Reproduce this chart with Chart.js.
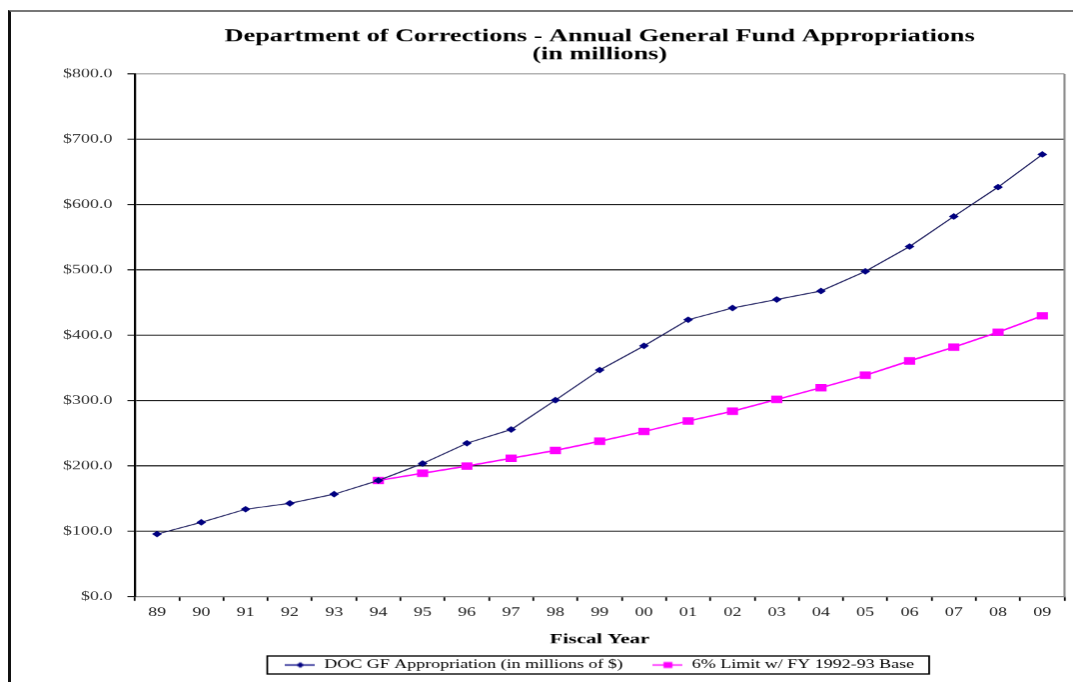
<!DOCTYPE html>
<html>
<head>
<meta charset="utf-8">
<script src="https://cdn.jsdelivr.net/npm/chart.js@4"></script>
<style>
  body { margin: 0; background: #fff; overflow: hidden; }
  #frame { position: absolute; left: 8px; top: 10px; width: 1100px; height: 700px; border-left: 3px solid #111; border-top: 2px solid #777; }
  #wrap { position: absolute; left: 0; top: 0; width: 716px; height: 682px; transform: scaleX(1.4986); transform-origin: 0 0; }
</style>
</head>
<body>
<div id="frame"></div>
<div id="wrap"><canvas id="docChart"></canvas></div>
<script>
// Fiscal years and appropriations (millions of $)
const years = ['89', '90', '91', '92', '93', '94', '95', '96', '97', '98', '99', '00', '01', '02', '03', '04', '05', '06', '07', '08', '09'];
const docAppropriation = [96, 114, 134, 143, 157, 178, 204, 235, 256, 301, 347, 384, 424, 442, 455, 468, 498, 536, 582, 627, 677];
const limitSixPct = [null, null, null, null, null, 178, 189, 200, 212, 224, 238, 253, 269, 284, 302, 320, 339, 361, 382, 405, 430];
const yTicks = [0, 100, 200, 300, 400, 500, 600, 700, 800];

const serif = "'Liberation Serif', 'Times New Roman', serif";
const navy = '#000080';
const pink = '#ff00ff';

// little legend icons: line with the marker in the middle
function legendIcon(color, shape) {
    const c = document.createElement('canvas');
    c.width = 20; c.height = 9;
    const g = c.getContext('2d');
    g.strokeStyle = color; g.fillStyle = color; g.lineWidth = 1.3;
    g.beginPath(); g.moveTo(0, 4.5); g.lineTo(20, 4.5); g.stroke();
    g.beginPath();
    if (shape === 'diamond') {
        g.moveTo(10, 1.5); g.lineTo(12.5, 4.5); g.lineTo(10, 7.5); g.lineTo(7.5, 4.5);
    } else {
        g.rect(7, 1.5, 6, 6);
    }
    g.fill();
    return c;
}
const icons = [legendIcon(navy, 'diamond'), legendIcon(pink, 'square')];

const framePlugin = {
    id: 'framePlugin',
    beforeDatasetsDraw(chart) {
        const {ctx, chartArea} = chart;
        ctx.save();
        ctx.strokeStyle = '#8a8a8a';
        ctx.lineWidth = 1.4;
        ctx.beginPath();
        ctx.moveTo(chartArea.right, chartArea.top);
        ctx.lineTo(chartArea.right, chartArea.bottom);
        ctx.stroke();
        ctx.restore();
    },
    afterDraw(chart) {
        const boxes = chart.legend.legendHitBoxes;
        if (!boxes || !boxes.length) return;
        let l = Infinity, r = -Infinity, t = Infinity, b = -Infinity;
        boxes.forEach(h => {
            l = Math.min(l, h.left); r = Math.max(r, h.left + h.width);
            t = Math.min(t, h.top); b = Math.max(b, h.top + h.height);
        });
        const ctx = chart.ctx;
        ctx.save();
        ctx.strokeStyle = '#000';
        ctx.lineWidth = 1.2;
        ctx.strokeRect(l - 12, t - 3, r - l + 22, b - t + 6);
        ctx.restore();
    }
};

const ctx = document.getElementById('docChart').getContext('2d');
const docChart = new Chart(ctx, {
    type: 'line',
    data: {
        labels: years,
        datasets: [{
            label: 'DOC GF Appropriation (in millions of $)',
            data: docAppropriation,
            borderColor: '#1c1c5e',
            borderWidth: 1,
            pointStyle: 'rectRot',
            pointRadius: 2.6,
            pointBackgroundColor: navy,
            pointBorderColor: navy,
            pointBorderWidth: 1,
            tension: 0
        }, {
            label: '6% Limit w/ FY 1992-93 Base',
            data: limitSixPct,
            borderColor: pink,
            borderWidth: 1.5,
            pointStyle: 'rect',
            pointRadius: 4.2,
            pointBackgroundColor: pink,
            pointBorderColor: pink,
            tension: 0
        }]
    },
    options: {
        responsive: true,
        maintainAspectRatio: false,
        animation: false,
        devicePixelRatio: 1.5,
        layout: { padding: { left: 0, right: 4.5, top: 0, bottom: 1 } },
        scales: {
            x: {
                offset: true,
                grid: {
                    offset: true,
                    drawOnChartArea: false,
                    drawTicks: true,
                    tickLength: 4,
                    tickWidth: 1.2,
                    tickColor: '#000'
                },
                border: { color: '#8a8a8a', width: 1.4 },
                ticks: {
                    color: '#222',
                    padding: 5,
                    maxRotation: 0,
                    autoSkip: false,
                    font: { family: serif, size: 12 }
                },
                title: {
                    display: true,
                    text: 'Fiscal Year',
                    color: '#000',
                    font: { family: serif, size: 14, weight: 'bold' },
                    padding: { top: 6, bottom: 3 }
                }
            },
            y: {
                min: 0,
                max: 800,
                afterFit(scale) { scale.width = 90; },
                afterBuildTicks(scale) { scale.ticks = yTicks.map(v => ({ value: v })); },
                grid: {
                    color: c => (c.tick && c.tick.value === 800) ? '#9a9a9a' : (c.tick && c.tick.value === 0 ? '#8a8a8a' : '#000'),
                    lineWidth: 1,
                    tickLength: 5,
                    tickColor: '#000'
                },
                border: { color: '#000', width: 1.5 },
                ticks: {
                    color: '#333',
                    padding: 10,
                    font: { family: serif, size: 12 },
                    callback: v => '$' + Number(v).toFixed(1)
                }
            }
        },
        plugins: {
            title: {
                display: true,
                fullSize: false,
                text: ['Department of Corrections - Annual General Fund Appropriations', '(in millions)'],
                color: '#000',
                font: { family: serif, size: 17.5, weight: 'bold', lineHeight: 1.03 },
                padding: { top: 28, bottom: 10 }
            },
            legend: {
                position: 'bottom',
                fullSize: false,
                labels: {
                    color: '#000',
                    usePointStyle: true,
                    pointStyleWidth: 20,
                    padding: 8,
                    font: { family: serif, size: 12 },
                    generateLabels(chart) {
                        const items = Chart.defaults.plugins.legend.labels.generateLabels(chart);
                        items.forEach((it, i) => { it.pointStyle = icons[i]; });
                        // keep Excel-like gap between the two entries
                        items[0].text += '    ';
                        return items;
                    }
                }
            },
            tooltip: { enabled: false }
        }
    },
    plugins: [framePlugin]
});
</script>
</body>
</html>
